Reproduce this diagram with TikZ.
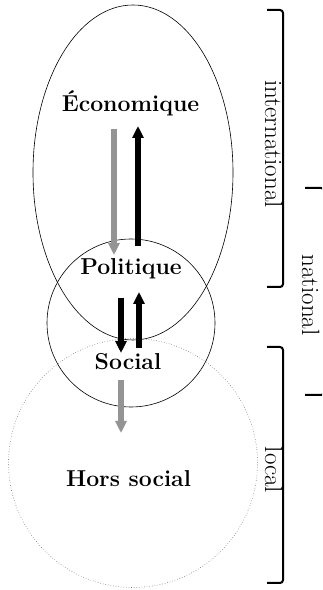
\documentclass[tikz,border=0pt]{standalone}
\usetikzlibrary{arrows.meta}

\definecolor{arrowgray}{gray}{0.58}

\begin{document}
\begin{tikzpicture}[
  x=1pt, y=1pt,
  sphere/.style={font=\fontsize{23}{27}\selectfont\bfseries, inner sep=0pt, anchor=base},
  level/.style={font=\fontsize{25}{30}\selectfont, inner sep=0pt, anchor=base,
                rotate=-90},
  brack/.style={line width=2pt, rounded corners=3pt},
  flow/.style={line width=6pt, -{Triangle[length=12pt,width=11pt]}},
]
\useasboundingbox (0,0) rectangle (322,590);
\clip (0,0) rectangle (322,590);

% Spheres
\draw[line width=0.6pt] (133,417.5) ellipse [x radius=100, y radius=167.5];
\draw[line width=0.6pt] (131,267) circle [radius=84];
\draw[line width=0.6pt, black!55, dotted] (133,127) circle [radius=124.5];

\node[sphere] (eco) at (130.5,478) {Économique};
\node[sphere] (pol) at (131,315) {Politique};
\node[sphere] (soc) at (128,220) {Social};
\node[sphere] (hors) at (128.5,103) {Hors social};

% Arrows
\coordinate (ecodown) at (114,461);
\coordinate (poltop) at (114,335);
\coordinate (polup) at (138,344);
\coordinate (ecotop) at (138,464);
\coordinate (poldown) at (121,292);
\coordinate (soctop) at (121,237);
\coordinate (socup) at (139,242);
\coordinate (polbot) at (139,298);
\coordinate (socdown) at (121,210);
\coordinate (horstop) at (121,157);

\draw[flow, arrowgray] (ecodown) -- (poltop);
\draw[flow] (polup) -- (ecotop);
\draw[flow] (poldown) -- (soctop);
\draw[flow] (socup) -- (polbot);
\draw[flow, arrowgray] (socdown) -- (horstop);

% Scales
\draw[brack] (267,580) -- (283,580) -- (283,303) -- (267,303);
\draw[brack] (305,402) -- (324,402) -- (324,195) -- (305,195);
\draw[brack] (267,243) -- (283,243) -- (283,7) -- (267,7);

\node[level] (intl) at (265,446) {international};
\node[level] (natl) at (302,295) {national};
\node[level] (locl) at (265,120) {local};
\end{tikzpicture}
\end{document}
